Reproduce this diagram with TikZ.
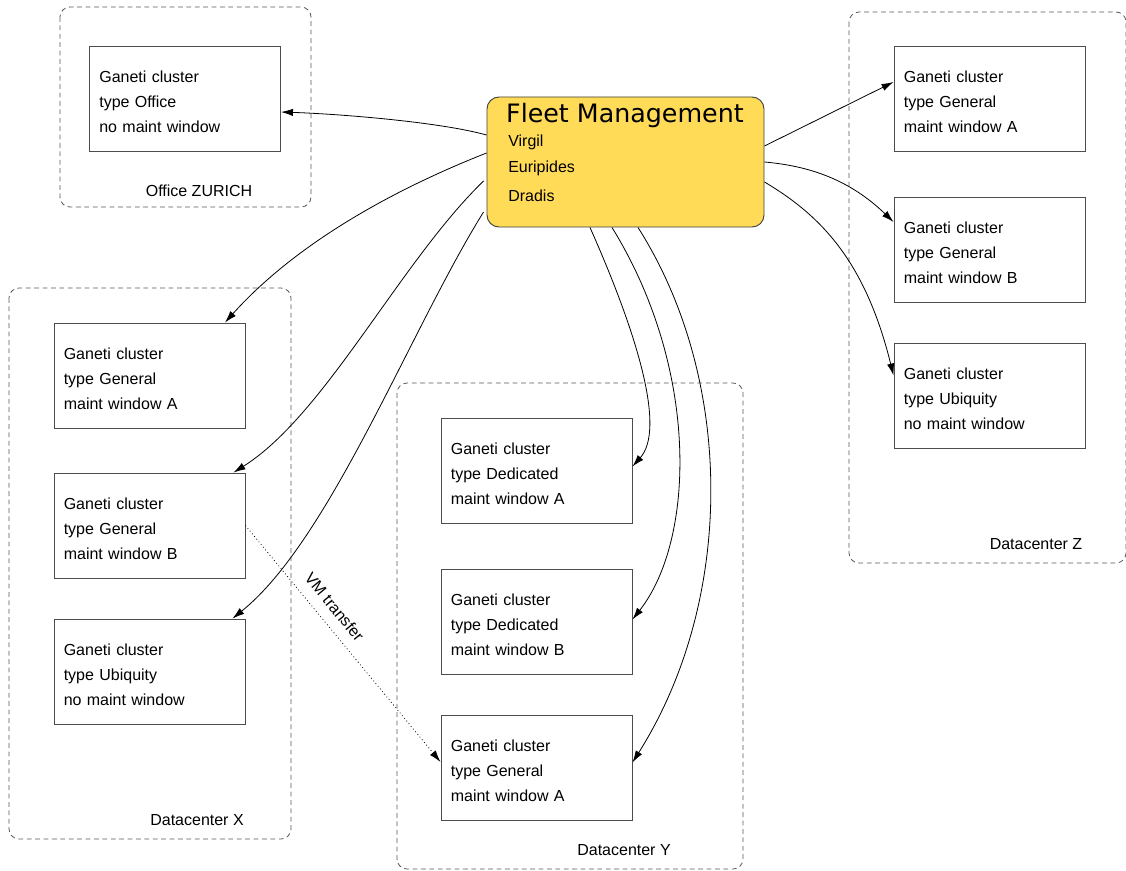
\documentclass[tikz,border=0pt]{standalone}
\usepackage{fontspec}
\setmainfont{Liberation Sans}
\newfontfamily\titlefont{DejaVu Sans}
\usetikzlibrary{arrows.meta,calc,positioning}
\definecolor{fmyellow}{RGB}{255,219,88}
\tikzset{
  container/.style={draw=black!65, dashed, dash pattern=on 3.6pt off 2.7pt, line width=0.6pt, rounded corners=7.5pt},
  cluster/.style={draw=black!70, line width=0.7pt, minimum width=143.25pt, minimum height=78.75pt, inner sep=0pt},
  clustertext/.style={text width=128pt, align=left, inner sep=0pt, anchor=west, font=\fontsize{12}{18.75}\selectfont},
  boxlabel/.style={font=\fontsize{12}{14}\selectfont, inner sep=0pt},
  conn/.style={line width=0.6pt, -{Latex[length=9pt,width=5.5pt]}},
}
\newcommand{\clusterbox}[6]{%
  \node[cluster] (#1) at (#2,#3) {};
  \node[clustertext] (#1t) at ($(#1.west)+(10,3)$) {#4\\#5\\#6};
}
\begin{document}
\begin{tikzpicture}[x=0.75pt,y=-0.75pt]
\useasboundingbox (0,0) rectangle (1126,870);
% containers
\draw[container] (60,7) rectangle (311,207);
\draw[container] (9,288) rectangle (291,839);
\draw[container] (397,383) rectangle (743,869);
\draw[container] (849,12) rectangle (1126,563);
\node[boxlabel] (lzur) at (199,191) {Office ZURICH};
\node[boxlabel] (lx) at (197,820) {Datacenter X};
\node[boxlabel] (ly) at (624,850) {Datacenter Y};
\node[boxlabel] (lz) at (1036,544) {Datacenter Z};
% fleet management
\node[draw=black!75, line width=0.7pt, fill=fmyellow, rounded corners=9pt, minimum width=207.75pt, minimum height=97.5pt, inner sep=0pt] (fm) at (625.5,162) {};
\node[font=\titlefont\fontsize{19}{22}\selectfont, inner sep=0pt] (fmt) at (625,116) {Fleet Management};
\node[boxlabel, anchor=west] (v1) at (508,142.5) {Virgil};
\node[boxlabel, anchor=west] (v2) at (508,168.5) {Euripides};
\node[boxlabel, anchor=west] (v3) at (508,195.5) {Dradis};
% clusters
\clusterbox{off}{185}{99}{Ganeti cluster}{type Office}{no maint window}
\clusterbox{xa}{149.5}{375.5}{Ganeti cluster}{type General}{maint window A}
\clusterbox{xb}{149.5}{525.5}{Ganeti cluster}{type General}{maint window B}
\clusterbox{xc}{149.5}{671.5}{Ganeti cluster}{type Ubiquity}{no maint window}
\clusterbox{ya}{536.5}{470.5}{Ganeti cluster}{type Dedicated}{maint window A}
\clusterbox{yb}{536.5}{621.5}{Ganeti cluster}{type Dedicated}{maint window B}
\clusterbox{yc}{536.5}{767.5}{Ganeti cluster}{type General}{maint window A}
\clusterbox{za}{989.5}{99}{Ganeti cluster}{type General}{maint window A}
\clusterbox{zb}{989.5}{249.5}{Ganeti cluster}{type General}{maint window B}
\clusterbox{zc}{989.5}{395.5}{Ganeti cluster}{type Ubiquity}{no maint window}
% connectors
\draw[conn] ($(fm.west)+(0,-27)$) .. controls (440,122) and (340,114) .. ($(off.east)+(0,13)$);
\draw[conn] ($(fm.west)+(0,-9)$) .. controls (380,195) and (290,250) .. ($(xa.north)+(75.5,0)$);
\draw[conn] ($(fm.west)+(-3,19)$) .. controls (400,262) and (325,415) .. ($(xb.north)+(84,0)$);
\draw[conn] ($(fm.west)+(-3,50)$) .. controls (410,330) and (330,540) .. ($(xc.north)+(83,0)$);
\draw[conn] ($(fm.south)+(-35.5,0)$) .. controls (640,340) and (665,430) .. ($(ya.east)+(0,-4)$);
\draw[conn] ($(fm.south)+(-13.5,0)$) .. controls (700,370) and (695,540) .. ($(yb.east)+(0,-2)$);
\draw[conn] ($(fm.south)+(12.5,0)$) .. controls (735,380) and (735,600) .. ($(yc.east)+(0,-5)$);
\draw[conn] ($(fm.east)+(0,-16)$) -- ($(za.west)+(0,-17)$);
\draw[conn] ($(fm.east)+(0,0)$) .. controls (810,166) and (850,180) .. ($(zb.west)+(0,-27.5)$);
\draw[conn] ($(fm.east)+(0,20)$) .. controls (820,215) and (865,260) .. ($(zc.west)+(0,-20)$);
\draw[line width=0.6pt, dotted, -{Latex[length=9pt,width=5.5pt]}] (xb.east) -- node[pos=0.39, sloped, above=8pt, boxlabel] (vm) {VM transfer} ($(yc.west)+(0,-5.5)$);
\end{tikzpicture}
\end{document}
